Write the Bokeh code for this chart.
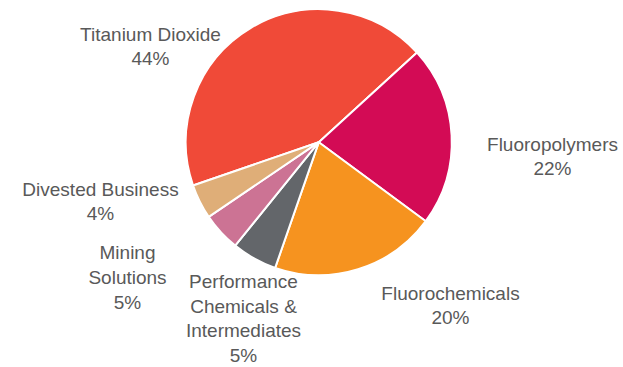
import math
from bokeh.plotting import figure
from bokeh.models import Range1d, ColumnDataSource
from bokeh.core.properties import value
from bokeh.embed import file_html
from bokeh.resources import INLINE

# Data
segments = ["Titanium Dioxide", "Fluoropolymers", "Fluorochemicals",
            "Performance Chemicals & Intermediates", "Mining Solutions", "Divested Business"]
shares = [43.5, 21.9, 20.2, 5.5, 4.7, 4.2]
pct_labels = ["44%", "22%", "20%", "5%", "5%", "4%"]
label_lines = ["Titanium Dioxide", "Fluoropolymers", "Fluorochemicals",
               "Performance\nChemicals &\nIntermediates", "Mining\nSolutions", "Divested Business"]

# Styles / layout
colors = ["#F04A38", "#D30B55", "#F6931F", "#63666A", "#CC7394", "#DFAE78"]
W, H = 623, 367
cx, cy, r = 318.3, H - 141.7, 133
start_deg = 42.4
label_pos = [(150, 46), (552, 156), (450, 305), (243, 318), (127, 277), (100, 201)]

# Slices run clockwise from start_deg in order Fluoropolymers..Divested, TiO2 last;
# equivalently counterclockwise: TiO2, Divested, Mining, Performance, Fluorochemicals, Fluoropolymers
ccw_order = [0, 5, 4, 3, 2, 1]
total = sum(shares)
starts = [0.0] * len(shares)
ends = [0.0] * len(shares)
cum = 0.0
for i in ccw_order:
    starts[i] = start_deg + 360 * cum / total
    cum += shares[i]
    ends[i] = start_deg + 360 * cum / total

src = ColumnDataSource(dict(seg=segments, share=shares, start=starts, end=ends, color=colors))

p = figure(width=W, height=H, x_range=Range1d(0, W), y_range=Range1d(0, H),
           output_backend="svg", toolbar_location=None, min_border=0)
p.axis.visible = False
p.grid.visible = False
p.outline_line_color = None
p.background_fill_color = "white"
p.border_fill_color = "white"

p.wedge(x=cx, y=cy, radius=r, start_angle="start", end_angle="end",
        start_angle_units="deg", end_angle_units="deg",
        fill_color="color", line_color="white", line_width=2, source=src)

texts = [f"{l}\n{pc}" for l, pc in zip(label_lines, pct_labels)]
lsrc = ColumnDataSource(dict(x=[q[0] for q in label_pos], y=[H - q[1] for q in label_pos], t=texts))
p.text(x="x", y="y", text="t", source=lsrc, text_align="center", text_baseline="middle",
       text_font=value("Liberation Sans"), text_font_size="19px", text_color="#595959",
       text_line_height=1.18)

open("out.html", "w").write(file_html(p, INLINE))
